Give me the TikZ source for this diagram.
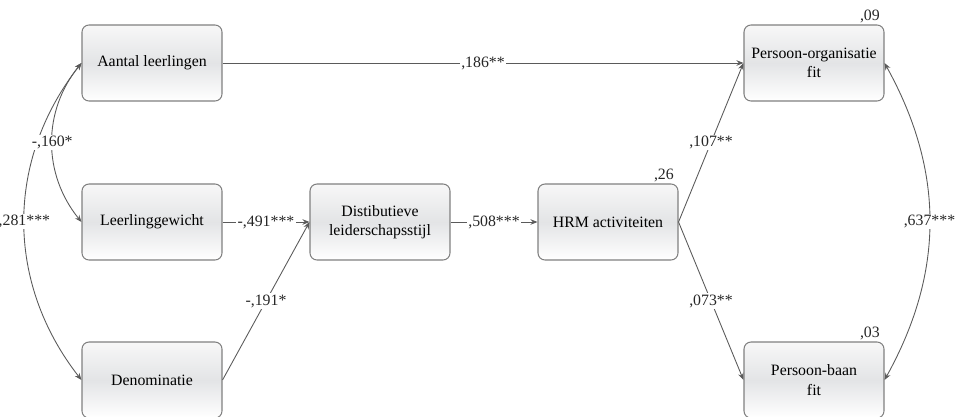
\documentclass[tikz,border=0pt]{standalone}
\usepackage{fontspec}
\setmainfont{Liberation Serif}
\definecolor{edge}{HTML}{5A5A5A}
\definecolor{frame}{HTML}{808080}
\definecolor{shade}{HTML}{E3E4E6}
\usetikzlibrary{arrows.meta,positioning}
\tikzset{
  >={Stealth[length=1.4mm,width=1.1mm]},
  var/.style={draw=frame,rounded corners=4pt,line width=0.6pt,minimum width=28mm,minimum height=15.2mm,align=center,
    top color=gray!6,bottom color=white,middle color=shade,font=\fontsize{9}{11}\selectfont},
  coef/.style={fill=white,inner sep=0.8pt,font=\fontsize{9}{10}\selectfont,text=black!85},
  rsq/.style={anchor=south east,inner sep=0.8pt,font=\fontsize{9}{10}\selectfont,text=black!85},
  arr/.style={->,draw=edge,line width=0.5pt},
  cov/.style={<->,draw=edge,line width=0.5pt},
}
\begin{document}
\begin{tikzpicture}[x=0.2mm,y=-0.2mm]
\useasboundingbox (0,0) rectangle (957,416);
\node[var] (aantal) at (152,63) {Aantal leerlingen};
\node[var] (gewicht) at (152,222) {Leerlinggewicht};
\node[var] (denom) at (152,380) {Denominatie};
\node[var] (distib) at (380,222) {Distibutieve\\leiderschapsstijl};
\node[var] (hrm) at (608,222) {HRM activiteiten};
\node[var] (pofit) at (814,63) {Persoon-organisatie\\fit};
\node[var] (pbfit) at (814,380) {Persoon-baan\\fit};
% verklaarde variantie
\node[rsq] (r2po) at ([xshift=-0.6mm]pofit.north east) {,09};
\node[rsq] (r2hrm) at ([xshift=-0.6mm]hrm.north east) {,26};
\node[rsq] (r2pb) at ([xshift=-0.6mm]pbfit.north east) {,03};
% paden
\draw[arr](aantal)--node[coef]{,186**}(pofit);
\draw[arr](gewicht)--node[coef]{-,491***}(distib); \draw[arr](denom.east)--node[coef]{-,191*}(distib.west);
\draw[arr](distib)--node[coef]{,508***}(hrm);
\draw[arr](hrm.east)--node[coef]{,107**}(pofit.west); \draw[arr](hrm.east)--node[coef]{,073**}(pbfit.west);
% correlaties
\draw[cov](aantal.west) to[bend right=38] node[coef]{,281***} (denom.west);
\draw[cov](aantal.west) to[bend right=39] node[coef]{-,160*} (gewicht.west);
\draw[cov](pofit.east) to[bend left=29] node[coef]{,637***} (pbfit.east);
\end{tikzpicture}
\end{document}
